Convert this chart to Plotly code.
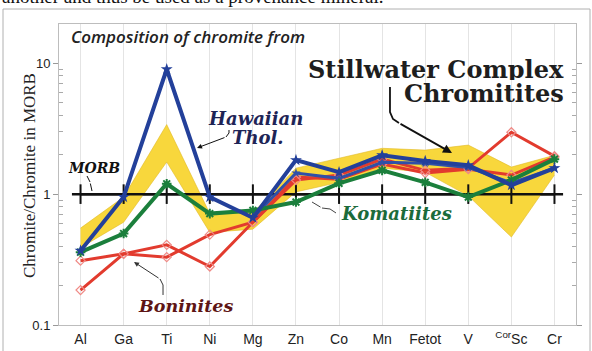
import plotly.graph_objects as go

# ---------------- data ----------------
elements = ["Al", "Ga", "Ti", "Ni", "Mg", "Zn", "Co", "Mn", "Fetot", "V", "<sup>Cor</sup>Sc", "Cr"]

stillwater_low = [0.39, 0.61, 1.76, 0.51, 0.54, 1.04, 1.23, 1.58, 1.47, 0.97, 0.47, 1.40]
stillwater_high = [0.55, 0.95, 3.40, 0.71, 0.72, 1.58, 1.88, 2.24, 2.17, 2.37, 1.61, 1.98]

morb = [1] * 12

hawaiian_1 = [0.37, 0.95, 9.0, 0.95, 0.66, 1.82, 1.47, 1.98, 1.79, 1.66, 1.17, 1.58]
hawaiian_2 = [None, None, None, None, 0.66, 1.45, 1.32, 1.75, 1.72, 1.60, 1.22, 1.58]

komatiites = [0.36, 0.50, 1.20, 0.71, 0.75, 0.87, 1.21, 1.52, 1.23, 0.95, 1.28, 1.85]

boninites_1 = [0.31, 0.35, 0.33, 0.49, 0.61, 1.28, 1.40, 1.85, 1.52, 1.58, 2.97, 1.95]
boninites_2 = [0.185, 0.35, 0.41, 0.28, 0.61, 1.35, 1.30, 1.70, 1.45, 1.55, 1.40, 1.92]

y_ticks = [0.1, 1, 10]
y_tick_text = ["0.1", "1", "10"]

# ---------------- layout helpers ----------------
W, H = 592, 351
L, R, T, B = 59, 576, 24, 325


def px(x, y):
    return (x - L) / (R - L), (B - y) / (B - T)


fig = go.Figure()

# Stillwater band
fig.add_trace(go.Scatter(x=elements, y=stillwater_low, mode="lines",
                         line=dict(color="#e0bb2a", width=0.6), hoverinfo="skip"))
fig.add_trace(go.Scatter(x=elements, y=stillwater_high, mode="lines", fill="tonexty",
                         fillcolor="#f8d73c", line=dict(color="#e0bb2a", width=0.6)))

# MORB reference line
fig.add_trace(go.Scatter(x=elements, y=morb, mode="lines+markers",
                         line=dict(color="#111111", width=2.5),
                         marker=dict(symbol="line-ns", size=14,
                                     line=dict(color="#111111", width=2))))

red = "#e23b2e"
for yv in (boninites_2, boninites_1):
    fig.add_trace(go.Scatter(x=elements, y=yv, mode="lines+markers",
                             line=dict(color=red, width=3),
                             marker=dict(symbol="diamond-open", size=7,
                                         color="#f08a86", line=dict(width=1.2, color="#f08a86"))))

blue = "#23409a"
fig.add_trace(go.Scatter(x=elements, y=hawaiian_2, mode="lines+markers",
                         line=dict(color="#3050a8", width=3),
                         marker=dict(symbol="star", size=7, color="#3050a8")))
fig.add_trace(go.Scatter(x=elements, y=komatiites, mode="lines+markers",
                         line=dict(color="#1b7f3c", width=4),
                         marker=dict(symbol="asterisk-open", size=8,
                                     line=dict(color="#1b7f3c", width=2))))
fig.add_trace(go.Scatter(x=elements, y=hawaiian_1, mode="lines+markers",
                         line=dict(color=blue, width=4),
                         marker=dict(symbol="star", size=9, color=blue)))

# MORB line extension beyond first/last category
fig.add_shape(type="line", xref="x", yref="y", x0=-0.2, x1=11.2, y0=1, y1=1,
              line=dict(color="#111111", width=2.5), layer="below")

annotations = []


def label(text, x, y, size, color, family, xanchor="left", style="normal", weight="bold",
          angle=0, height=None):
    xp, yp = px(x, y)
    a = dict(text=text, x=xp, y=yp, xref="paper", yref="paper",
             xanchor=xanchor, yanchor="middle", showarrow=False, textangle=angle,
             font=dict(size=size, color=color, family=family,
                       style=style, weight=weight))
    if height:
        a["height"] = height
    annotations.append(a)


label("Composition of chromite from", 69, 37, 17, "#222222", "Open Sans",
      style="italic", weight=600)
label("Stillwater Complex", 566, 68.5, 24, "#1e1e1e", "DejaVu Serif", xanchor="right",
      height=22)
label("Chromitites", 566, 92.5, 24, "#1e1e1e", "DejaVu Serif", xanchor="right", height=22)
label("Hawaiian", 255, 118, 18, "#1e2456", "DejaVu Serif", xanchor="center", style="italic",
      height=19)
label("Thol.", 258, 137.5, 18, "#1e2456", "DejaVu Serif", xanchor="center", style="italic",
      height=19)
label("MORB", 94, 168, 14, "#111111", "DejaVu Serif", xanchor="center", style="italic")
label("Komatiites", 396, 213, 18, "#1b6b3a", "DejaVu Serif", xanchor="center", style="italic")
label("Boninites", 185, 306, 17.5, "#5e1515", "DejaVu Serif", xanchor="center", style="italic")
label("Chromite/Chromite in MORB", 29, 176, 17, "#222222", "Liberation Serif",
      xanchor="center", weight="normal", angle=-90)

# text of surrounding document clipped at the top
label("another and thus be used as a provenance mineral.", 0, -3, 19, "#111111",
      "Liberation Serif", weight="normal")


def arrow(head, tail, color="#111111", width=1.2, head_style=2, size=1.0):
    hx, hy = px(*head)
    annotations.append(dict(x=hx, y=hy, ax=tail[0] - head[0], ay=tail[1] - head[1],
                            xref="paper", yref="paper", axref="pixel", ayref="pixel",
                            showarrow=True, text="",
                            arrowhead=head_style, arrowsize=size, arrowwidth=width,
                            arrowcolor=color))


arrow((452, 153), (399, 123), width=1.8, size=1.0)
arrow((197, 148), (226, 137), width=1.0, size=1.0)
arrow((92, 191), (90, 182), width=1.0, head_style=0)
arrow((312, 202), (322, 208), color="#444444", width=1.0, head_style=0)
arrow((134, 262), (160, 279), color="#333333", width=1.0, size=1.0)


def path(points, color="#111111", width=1.2):
    segs = []
    for i, (x, y) in enumerate(points):
        xp, yp = px(x, y)
        segs.append(("M" if i == 0 else "L") + f"{xp:.4f},{yp:.4f}")
    fig.add_shape(type="path", xref="paper", yref="paper", path=" ".join(segs),
                  line=dict(color=color, width=width))


path([(390, 87), (390, 112), (393, 119), (399, 123)], width=1.8)
path([(226, 137), (229, 133), (229, 130)], width=1.0)
path([(90, 182), (87, 176)], width=1.0)
path([(322, 208), (330, 209), (336, 213)], color="#444444", width=1.0)
path([(160, 279), (163, 285), (163, 295)], color="#333333", width=1.0)

# outer frame of the page figure
x0, y0 = px(3, 9)
x1, y1 = px(590, 360)
fig.add_shape(type="rect", xref="paper", yref="paper", x0=x0, y0=y1, x1=x1, y1=y0,
              line=dict(color="#b0b0b0", width=1))

minor_vals = [v * m for v in (0.1, 1, 10) for m in range(2, 10) if v * m < 20]

fig.update_layout(
    width=W, height=H,
    margin=dict(l=L, r=W - R, t=T, b=H - B, autoexpand=False),
    paper_bgcolor="white", plot_bgcolor="white",
    showlegend=False,
    annotations=annotations,
    font=dict(family="Liberation Sans", color="#222222"),
)
fig.update_xaxes(type="category", range=[-0.5, 11.5], showgrid=True, automargin=False,
                 gridcolor="#e4e4e4", gridwidth=1, showline=True, linecolor="#bdbdbd",
                 mirror=True, ticks="", ticklabelstandoff=1,
                 tickfont=dict(size=14, family="Liberation Sans", color="#222222"),
                 zeroline=False)
fig.update_yaxes(type="log", range=[-1, 1.3], showgrid=False, showline=True, automargin=False,
                 linecolor="#bdbdbd", mirror="allticks", ticks="outside", ticklen=5,
                 tickcolor="#999999", tickvals=y_ticks, ticktext=y_tick_text,
                 tickfont=dict(size=13, family="Liberation Sans", color="#222222"),
                 minor=dict(tickvals=minor_vals, ticks="inside", ticklen=4,
                            tickcolor="#aaaaaa", showgrid=False),
                 zeroline=False)

fig.write_html("out.html")
